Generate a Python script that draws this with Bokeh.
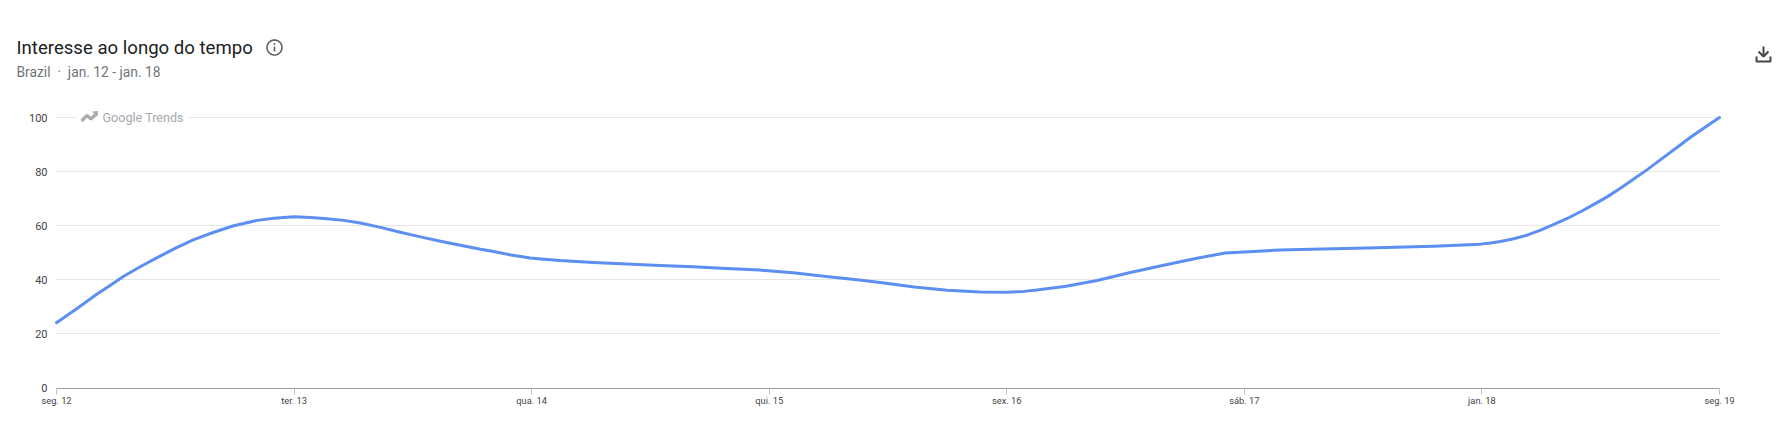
import math
from bokeh.embed import file_html
from bokeh.resources import INLINE
from bokeh.layouts import column
from bokeh.plotting import figure
from bokeh.core.properties import value
from bokeh.models import Range1d, FixedTicker

title_text = "Interesse ao longo do tempo"
subtitle_text = "Brazil \u00a0·\u00a0 jan. 12 - jan. 18"
watermark_text = "Google Trends"

tick_days = [0, 1, 2, 3, 4, 5, 6, 7]
tick_labels = ["seg. 12", "ter. 13", "qua. 14", "qui. 15", "sex. 16", "sáb. 17", "jan. 18", "seg. 19"]
y_ticks = [0, 20, 40, 60, 80, 100]

days = [0, 0.085, 0.171, 0.227, 0.283, 0.354, 0.424, 0.501, 0.578, 0.662, 0.746, 0.845, 0.915, 1.0,
        1.069, 1.139, 1.209, 1.279, 1.364, 1.447, 1.532, 1.616, 1.70, 1.785, 1.84, 1.912, 1.994, 2.052,
        2.12, 2.26, 2.40, 2.54, 2.68, 2.82, 2.96, 3.10, 3.24, 3.38, 3.467, 3.61,
        3.75, 3.89, 4.0, 4.072, 4.126, 4.25, 4.38, 4.52, 4.66, 4.80, 4.92, 5.0, 5.15, 5.236, 5.516, 5.797,
        5.994, 6.036, 6.078, 6.134, 6.19, 6.247, 6.303, 6.359, 6.415, 6.471, 6.527, 6.583, 6.639, 6.696,
        6.752, 6.815, 6.878, 6.941, 7.0]
interest = [24, 29.2, 34.6, 37.9, 41.2, 44.8, 48.1, 51.6, 54.8, 57.5, 59.9, 61.9, 62.7, 63.2,
            63.0, 62.5, 61.9, 60.9, 59.3, 57.5, 55.8, 54.2, 52.7, 51.2, 50.4, 49.1, 48, 47.5,
            47, 46.3, 45.7, 45.2, 44.7, 44.1, 43.5, 42.5, 41.1, 39.8, 38.9, 37.2,
            36, 35.4, 35.3, 35.6, 36.1, 37.5, 39.6, 42.6, 45.3, 47.9, 49.8, 50.2, 50.9, 51.1, 51.7, 52.3,
            53.1, 53.5, 54.1, 55.1, 56.4, 58.3, 60.4, 62.6, 65.1, 67.8, 70.6, 73.8, 77.2, 80.7,
            84.4, 88.5, 92.7, 96.5, 100]

W = 1785
HEAD_H = 100
CHART_H = 332
PX_DAY = (1719 - 56) / 7
PX_UNIT = 2.7
FRAME_L, FRAME_R, FRAME_T, FRAME_B = 52, 1724, 105, 388
Y0 = 387

# ---- header strip: a frame as large as its canvas, so data units are page pixels
h = figure(width=W, height=HEAD_H, output_backend="svg", toolbar_location=None,
           x_range=Range1d(0, W), y_range=Range1d(HEAD_H, 0),
           x_axis_type=None, y_axis_type=None,
           min_border=0, min_border_left=0, min_border_right=0, min_border_top=0, min_border_bottom=0)
h.frame_align = False
h.outline_line_color = None
h.xgrid.visible = False
h.ygrid.visible = False


def label(fig, x, y, s, size, color, style="normal"):
    fig.text([x], [y], text=[s], text_font=value("Roboto"), text_font_size=value(size), text_color=color,
             text_font_style=style, text_align="left", text_baseline="middle")


label(h, 16, 47, title_text, "18.6px", "#202124")
label(h, 16, 71.5, subtitle_text, "13.8px", "#70757a")

# info icon
ring = [t / 32 * 2 * math.pi for t in range(33)]
h.line([274 + 7.5 * math.cos(t) for t in ring], [47 + 7.5 * math.sin(t) for t in ring],
       line_color="#5f6368", line_width=1.6)
h.line([274, 274], [46, 51], line_color="#5f6368", line_width=1.6)
h.line([274, 274], [42.8, 44.4], line_color="#5f6368", line_width=1.6)

# download icon
dark = "#444746"
h.line([1763, 1763], [46, 56], line_color=dark, line_width=2)
h.line([1758, 1763, 1768], [51, 56, 51], line_color=dark, line_width=2)
h.line([1756, 1756, 1770, 1770], [56, 61, 61, 56], line_color=dark, line_width=2)

# ---- chart
p = figure(width=W, height=CHART_H, output_backend="svg", toolbar_location=None,
           x_range=Range1d(-(56 - FRAME_L) / PX_DAY, 7 + (FRAME_R - 1719) / PX_DAY),
           y_range=Range1d((Y0 - FRAME_B) / PX_UNIT, (Y0 - FRAME_T) / PX_UNIT),
           min_border_left=FRAME_L, min_border_right=W - FRAME_R,
           min_border_top=FRAME_T - HEAD_H, min_border_bottom=HEAD_H + CHART_H - FRAME_B)
p.frame_align = False
p.outline_line_color = None
p.xgrid.visible = False
p.ygrid.visible = False

ax = p.xaxis[0]
ax.ticker = FixedTicker(ticks=tick_days)
ax.bounds = (0, 7)
ax.major_label_overrides = dict(zip(tick_days, tick_labels))
ax.axis_line_color = "#9e9e9e"
ax.axis_line_width = 1
ax.major_tick_line_color = "#c0c0c0"
ax.major_tick_out = 6
ax.major_tick_in = 0
ax.minor_tick_line_color = None
ax.major_label_standoff = 0
ax.major_label_text_font = "Roboto"
ax.major_label_text_font_size = "9.3px"
ax.major_label_text_color = "#444444"

ay = p.yaxis[0]
ay.ticker = FixedTicker(ticks=y_ticks)
ay.axis_line_color = None
ay.major_tick_line_color = None
ay.minor_tick_line_color = None
ay.major_tick_out = 0
ay.major_tick_in = 0
ay.major_label_standoff = 5
ay.major_label_text_font = "Roboto"
ay.major_label_text_font_size = "11px"
ay.major_label_text_color = "#444444"

# gridlines stop exactly at the last day, the frame runs on a little for the line's round end
p.segment(x0=[tick_days[0]] * 5, x1=[tick_days[-1]] * 5, y0=y_ticks[1:], y1=y_ticks[1:],
          line_color="#e6e6e6", line_width=1)

p.line(days, interest, line_color="#5c8ff0", line_width=3, line_join="round", line_cap="round")


def dx(x):
    return (x - 56) / PX_DAY


def dy(y):
    return (Y0 - y) / PX_UNIT


# watermark, with the gridline interrupted behind it
p.quad(left=[dx(76)], right=[dx(188)], top=[dy(112)], bottom=[dy(123)], fill_color="white", line_color=None)
p.line([dx(81), dx(86.5), dx(90.5), dx(96)], [dy(120.5), dy(115), dy(118.5), dy(113)],
       line_color="#acacac", line_width=3.2)
p.patch([dx(91.5), dx(97.5), dx(97)], [dy(111), dy(110.5), dy(116.5)], fill_color="#acacac", line_color=None)
label(p, dx(102), dy(117), watermark_text, "12.6px", "#a4a9ae")

open("out.html", "w").write(file_html(column(h, p, spacing=0), INLINE))
